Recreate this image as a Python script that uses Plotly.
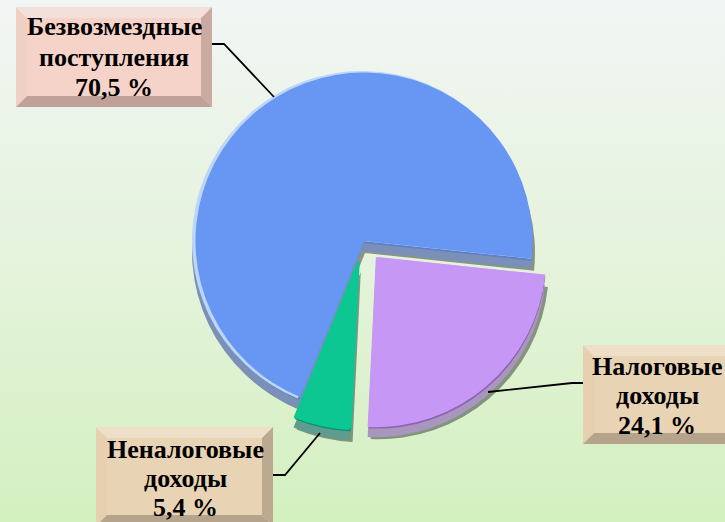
import plotly.graph_objects as go

W, H = 725, 522

# ---- data ----
categories = ["Налоговые доходы", "Неналоговые доходы", "Безвозмездные поступления"]
values = [24.1, 5.4, 70.5]
label_lines = [["Налоговые", "доходы", "24,1 %"],
               ["Неналоговые", "доходы", "5,4 %"],
               ["Безвозмездные", "поступления", "70,5 %"]]

# ---- style ----
pulls = [0.125, 0.115, 0]
top_colors = ["#c797f5", "#0cc791", "#6796f3"]
rim_colors = ["#c797f5", "#0cc791", "#bcd6f8"]
crease_colors = ["#8b62b4", "#07906a", "#5f80c4"]
edge_colors = ["#a896bd", "#5d9c8e", "#7b90b8"]
shadow_colors = ["rgba(60,70,60,0.55)"] * 3
ROT = 96
CX, CY, R = 362, 241, 170


def px(x):
    return x / W


def py(y):
    return 1 - y / H


def pie(dx, dy, radius, colors):
    half = radius * (1 + max(pulls))
    return go.Pie(
        labels=categories, values=values, sort=False, direction="clockwise",
        rotation=ROT, pull=pulls, marker=dict(colors=colors, line=dict(width=0)),
        textinfo="none", hoverinfo="label+percent", showlegend=False,
        domain=dict(x=[px(CX + dx - half), px(CX + dx + half)],
                    y=[py(CY + dy + half), py(CY + dy - half)]),
    )


fig = go.Figure()
# page background
fig.add_trace(go.Scatter(
    x=[0, 1, 1, 0, 0], y=[0, 0, 1, 1, 0], mode="lines", fill="toself",
    line=dict(width=0), hoverinfo="skip", showlegend=False,
    fillgradient=dict(type="vertical",
                      colorscale=[[0, "#d3f0bf"], [0.5, "#e5f3dc"], [1, "#f1f5f4"]]),
))
fig.add_trace(pie(3, 12, R, shadow_colors))
fig.add_trace(pie(0, 10, R, edge_colors))
fig.add_trace(pie(1, 2, R - 0.5, crease_colors))
fig.add_trace(pie(0, 0, R, rim_colors))
fig.add_trace(pie(2, 0, R - 1.5, top_colors))

shapes = []


def poly(points, color):
    d = "M" + " L".join(f"{px(x):.5f},{py(y):.5f}" for x, y in points) + " Z"
    shapes.append(dict(type="path", xref="paper", yref="paper", path=d,
                       fillcolor=color, line=dict(width=0), layer="above"))


def box(x0, y0, x1, y1, b, face, top, left, right, bottom):
    poly([(x0, y0), (x1, y0), (x1 - b, y0 + b), (x0 + b, y0 + b)], top)
    poly([(x0, y0), (x0 + b, y0 + b), (x0 + b, y1 - b), (x0, y1)], left)
    poly([(x1, y0), (x1, y1), (x1 - b, y1 - b), (x1 - b, y0 + b)], right)
    poly([(x0, y1), (x0 + b, y1 - b), (x1 - b, y1 - b), (x1, y1)], bottom)
    poly([(x0 + b, y0 + b), (x1 - b, y0 + b), (x1 - b, y1 - b), (x0 + b, y1 - b)], face)


def connector(points):
    d = "M" + " L".join(f"{px(x):.5f},{py(y):.5f}" for x, y in points)
    shapes.append(dict(type="path", xref="paper", yref="paper", path=d,
                       line=dict(color="#000000", width=1.8), layer="above"))


box(16, 7, 212, 107, 11, "#f5d3c8", "#f3e0da", "#efd0c5", "#c9aba1", "#bfa197")
box(96, 427, 273, 526, 11, "#e8d3b4", "#eedfc9", "#e6d0b0", "#bcaa90", "#b5a48b")
box(583, 345, 740, 444, 11, "#e8d3b4", "#eedfc9", "#e6d0b0", "#bcaa90", "#b5a48b")
connector([(212, 44), (224, 44), (274, 97)])
connector([(273, 475), (285, 475), (320, 433)])
connector([(583, 383), (572, 383), (488, 392)])

label_x = [657, 185, 114]
label_y = [[366, 395, 425], [449, 478, 507], [26.5, 57, 88]]
annotations = [
    dict(text=f"<b>{line}</b>", x=px(x), y=py(y), xref="paper", yref="paper",
         showarrow=False, align="center", xanchor="center", yanchor="middle",
         font=dict(family="Liberation Serif", size=26, color="#000000"))
    for lines, x, ys in zip(label_lines, label_x, label_y)
    for line, y in zip(lines, ys)
]

fig.update_layout(
    width=W, height=H, margin=dict(l=0, r=0, t=0, b=0),
    paper_bgcolor="#e5f3dc", plot_bgcolor="rgba(0,0,0,0)",
    xaxis=dict(range=[0, 1], visible=False, fixedrange=True),
    yaxis=dict(range=[0, 1], visible=False, fixedrange=True),
    shapes=shapes, annotations=annotations, showlegend=False,
)
fig.write_html("out.html", config=dict(displayModeBar=False),
               post_script="document.body.style.margin='0';")
